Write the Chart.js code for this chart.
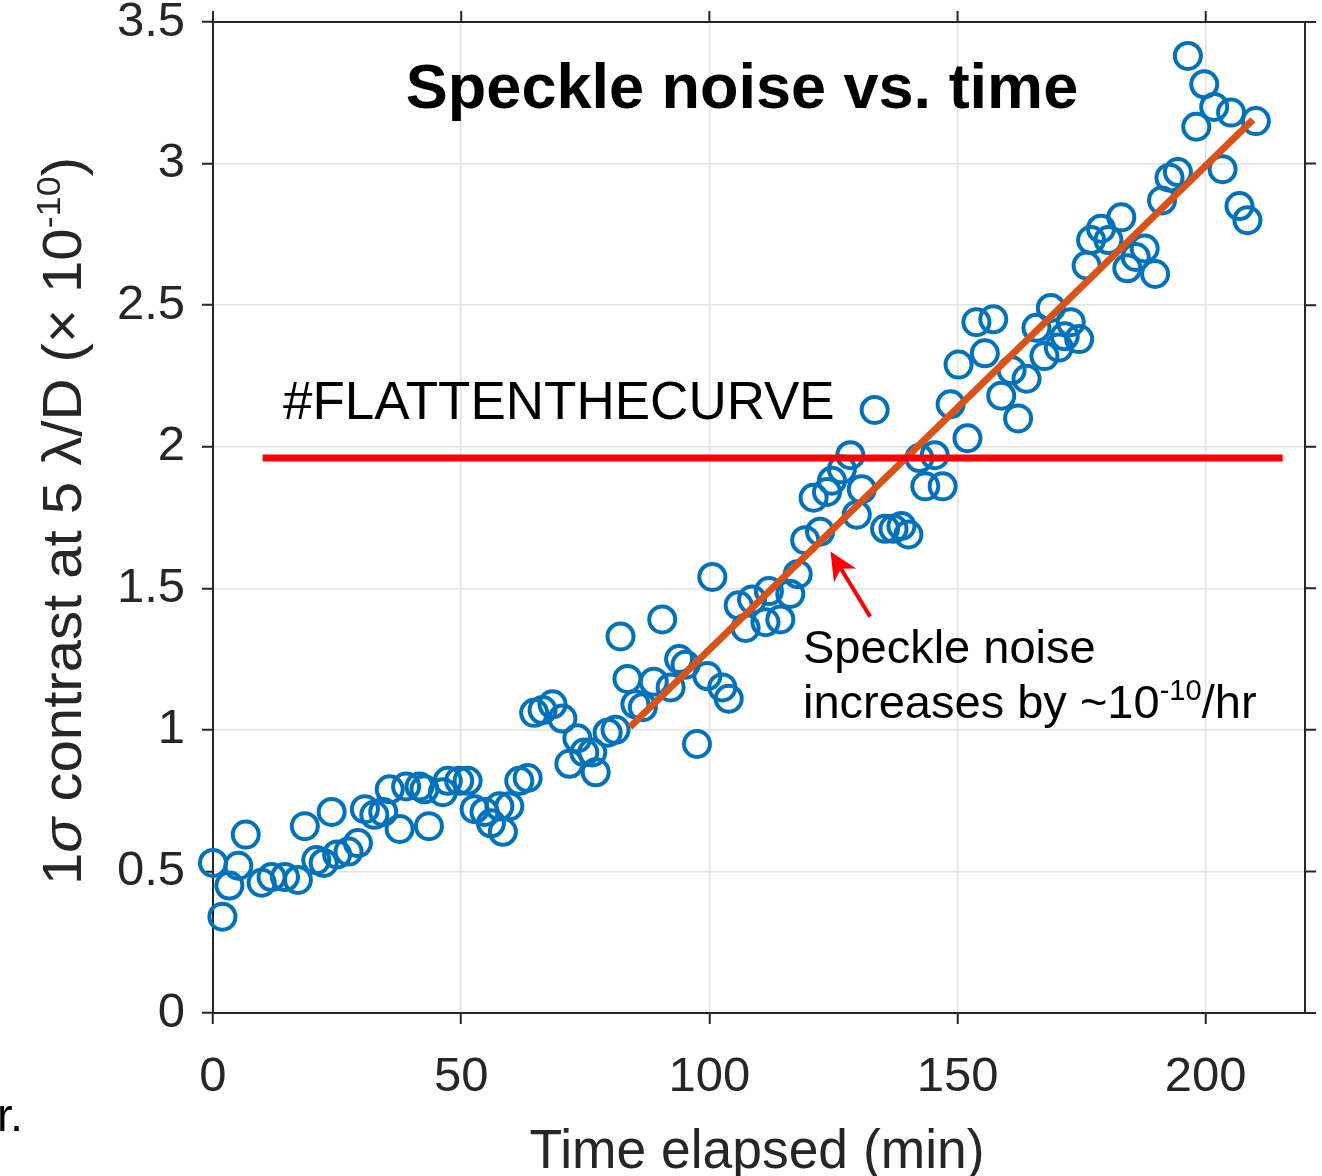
<!DOCTYPE html>
<html>
<head>
<meta charset="utf-8">
<title>Speckle noise vs. time</title>
<script src="https://cdn.jsdelivr.net/npm/chart.js@4.4.0/dist/chart.umd.min.js"></script>
<style>
  html, body { margin: 0; padding: 0; background: #fff; }
  #wrap { width: 1322px; height: 1176px; }
</style>
</head>
<body>
<div id="wrap"><canvas id="speckleChart" width="1322" height="1176"></canvas></div>
<script>
const timeMin = [0.0, 1.9, 3.3, 5.1, 6.6, 9.8, 11.8, 14.5, 17.1, 18.5,
    20.8, 22.3, 23.9, 25.0, 27.3, 29.2, 30.6, 32.5, 34.3, 35.6,
    37.6, 38.9, 41.6, 42.6, 43.5, 46.3, 47.3, 49.6, 51.3, 52.7,
    54.7, 56.0, 57.7, 58.4, 59.7, 61.7, 63.4, 64.7, 66.4, 68.4,
    70.4, 71.8, 73.4, 74.8, 76.4, 77.1, 79.5, 81.1, 82.1, 83.5,
    85.1, 86.6, 88.8, 90.5, 92.2, 93.9, 95.2, 97.5, 99.6, 100.6,
    102.6, 103.9, 105.9, 107.3, 108.6, 111.3, 112.0, 114.3, 116.3, 117.8,
    119.3, 121.0, 122.3, 123.7, 124.7, 126.7, 128.4, 129.7, 130.7, 133.3,
    135.4, 137.1, 138.7, 140.1, 142.3, 143.5, 145.4, 147.0, 148.6, 150.2,
    152.0, 153.8, 155.5, 157.2, 158.8, 160.9, 162.2, 163.9, 165.9, 167.5,
    168.8, 170.4, 171.6, 172.8, 174.5, 176.0, 176.9, 178.9, 180.4, 183.0,
    184.2, 185.9, 187.7, 189.8, 191.2, 192.7, 194.4, 196.4, 198.1, 199.7,
    201.7, 203.4, 205.1, 206.8, 208.4, 210.1];
const contrast = [0.53, 0.34, 0.45, 0.52, 0.63, 0.46, 0.48, 0.48, 0.47, 0.66,
    0.54, 0.53, 0.71, 0.56, 0.57, 0.60, 0.72, 0.70, 0.71, 0.79,
    0.65, 0.80, 0.80, 0.79, 0.66, 0.78, 0.82, 0.82, 0.82, 0.72,
    0.71, 0.67, 0.73, 0.64, 0.73, 0.82, 0.83, 1.06, 1.07, 1.09,
    1.04, 0.88, 0.97, 0.92, 0.92, 0.85, 0.99, 1.00, 1.33, 1.18,
    1.09, 1.08, 1.17, 1.39, 1.15, 1.25, 1.23, 0.95, 1.19, 1.54,
    1.15, 1.11, 1.44, 1.36, 1.46, 1.38, 1.49, 1.39, 1.48, 1.55,
    1.67, 1.82, 1.70, 1.84, 1.88, 1.92, 1.97, 1.76, 1.85, 2.13,
    1.71, 1.71, 1.72, 1.69, 1.96, 1.86, 1.97, 1.86, 2.15, 2.29,
    2.03, 2.44, 2.33, 2.45, 2.18, 2.27, 2.10, 2.24, 2.42, 2.32,
    2.49, 2.35, 2.39, 2.44, 2.38, 2.64, 2.73, 2.77, 2.73, 2.81,
    2.63, 2.67, 2.70, 2.61, 2.87, 2.95, 2.97, 3.38, 3.13, 3.28,
    3.20, 2.98, 3.18, 2.85, 2.80, 3.15];

// linear fit (~1e-10 per hour)
const fitTime = [84, 209.5];
const fitContrast = [1.01, 3.155];

// the "flatten the curve" line
const flatTime = [10, 215.5];
const flatContrast = [1.96, 1.96];

// arrow pointing at the fit: tail, then tip
const arrowTime = [132.4, 124.4];
const arrowContrast = [1.40, 1.63];

const xTicks = [0, 50, 100, 150, 200];
const yTicks = [0, 0.5, 1, 1.5, 2, 2.5, 3, 3.5];

const AXIS_COLOR = '#262626';
const FONT = '"Liberation Sans", Arial, Helvetica, sans-serif';

Chart.defaults.font.family = FONT;

function toPoints(xs, ys) {
    return xs.map((x, i) => ({ x: x, y: ys[i] }));
}

// draws text pieces one after another, with optional superscripts
function drawRuns(ctx, runs, x, y, size) {
    let cx = x;
    runs.forEach(r => {
        const fs = r.sup ? size * 0.62 : size;
        ctx.font = (r.italic ? 'italic ' : '') + fs + 'px ' + FONT;
        ctx.fillText(r.t, cx, r.sup ? y - size * 0.38 : y);
        cx += ctx.measureText(r.t).width;
    });
}

function runsWidth(ctx, runs, size) {
    let w = 0;
    runs.forEach(r => {
        const fs = r.sup ? size * 0.62 : size;
        ctx.font = (r.italic ? 'italic ' : '') + fs + 'px ' + FONT;
        w += ctx.measureText(r.t).width;
    });
    return w;
}

const decorations = {
    id: 'decorations',
    afterDraw(chart) {
        const ctx = chart.ctx;
        const area = chart.chartArea;
        const xs = chart.scales.x;
        const ys = chart.scales.y;
        ctx.save();

        // top and right edges of the box, with outward ticks
        ctx.strokeStyle = AXIS_COLOR;
        ctx.lineWidth = 2;
        ctx.beginPath();
        ctx.moveTo(area.left, area.top);
        ctx.lineTo(area.right, area.top);
        ctx.lineTo(area.right, area.bottom);
        xs.ticks.forEach(t => {
            const px = xs.getPixelForValue(t.value);
            ctx.moveTo(px, area.top);
            ctx.lineTo(px, area.top - 11);
        });
        ys.ticks.forEach(t => {
            const py = ys.getPixelForValue(t.value);
            ctx.moveTo(area.right, py);
            ctx.lineTo(area.right + 11, py);
        });
        ctx.stroke();

        // arrow
        const x0 = xs.getPixelForValue(arrowTime[0]);
        const y0 = ys.getPixelForValue(arrowContrast[0]);
        const x1 = xs.getPixelForValue(arrowTime[1]);
        const y1 = ys.getPixelForValue(arrowContrast[1]);
        const ang = Math.atan2(y1 - y0, x1 - x0);
        const c = Math.cos(ang), s = Math.sin(ang);
        const headLen = 28, headW = 13;
        ctx.strokeStyle = '#ff0000';
        ctx.fillStyle = '#ff0000';
        ctx.lineWidth = 4;
        ctx.beginPath();
        ctx.moveTo(x0, y0);
        ctx.lineTo(x1 - c * headLen * 0.7, y1 - s * headLen * 0.7);
        ctx.stroke();
        const bx = x1 - c * headLen, by = y1 - s * headLen;
        ctx.beginPath();
        ctx.moveTo(x1, y1);
        ctx.lineTo(bx - s * headW, by + c * headW);
        ctx.lineTo(x1 - c * headLen * 0.72, y1 - s * headLen * 0.72);
        ctx.lineTo(bx + s * headW, by - c * headW);
        ctx.closePath();
        ctx.fill();

        // texts inside the plot
        ctx.fillStyle = '#000';
        ctx.textBaseline = 'alphabetic';
        ctx.textAlign = 'center';
        ctx.font = 'bold 63px ' + FONT;
        ctx.fillText('Speckle noise vs. time', 742, 108);

        ctx.textAlign = 'left';
        ctx.font = '53px ' + FONT;
        ctx.fillText('#FLATTENTHECURVE', 283, 419);

        ctx.font = '47px ' + FONT;
        ctx.fillText('Speckle noise', 803, 663);
        drawRuns(ctx, [{ t: 'increases by ~10' }, { t: '-10', sup: true }, { t: '/hr' }], 803, 718, 47);

        // stray letter at the lower left edge
        ctx.font = '47px ' + FONT;
        ctx.fillText('r.', -3, 1131);

        // x axis title
        ctx.fillStyle = AXIS_COLOR;
        ctx.font = '55px ' + FONT;
        const xt = 'Time elapsed (min)';
        const xw = ctx.measureText(xt).width;
        ctx.save();
        ctx.translate(757, 1168);
        ctx.scale(455 / xw, 1);
        ctx.fillText(xt, -xw / 2, 0);
        ctx.restore();

        // y axis title, rotated
        const yRuns = [
            { t: '1' }, { t: 'σ', italic: true }, { t: ' contrast at 5 ' },
            { t: 'λ' }, { t: '/D (' }, { t: '×' }, { t: ' 10' },
            { t: '-10', sup: true }, { t: ')' }
        ];
        const yw = runsWidth(ctx, yRuns, 55);
        ctx.save();
        ctx.translate(81, 521);
        ctx.rotate(-Math.PI / 2);
        ctx.scale(728 / yw, 1);
        drawRuns(ctx, yRuns, -yw / 2, 0, 55);
        ctx.restore();

        ctx.restore();
    }
};

const ctx = document.getElementById('speckleChart').getContext('2d');
const speckleChart = new Chart(ctx, {
    type: 'scatter',
    data: {
        datasets: [
            {
                label: 'flatten',
                data: toPoints(flatTime, flatContrast),
                showLine: true,
                borderColor: '#ff0000',
                borderWidth: 7,
                borderCapStyle: 'butt',
                pointRadius: 0,
                clip: false
            },
            {
                label: 'fit',
                data: toPoints(fitTime, fitContrast),
                showLine: true,
                borderColor: '#D95319',
                borderWidth: 7,
                borderCapStyle: 'butt',
                pointRadius: 0,
                clip: false
            },
            {
                label: 'speckle noise',
                data: toPoints(timeMin, contrast),
                pointStyle: 'circle',
                pointRadius: 13,
                pointHoverRadius: 13,
                pointBorderWidth: 4,
                pointBorderColor: '#0072BD',
                pointBackgroundColor: 'rgba(0,0,0,0)',
                clip: false
            }
        ]
    },
    options: {
        responsive: false,
        animation: false,
        layout: { padding: { left: 0, top: 22, right: 15, bottom: 0 } },
        plugins: {
            legend: { display: false },
            tooltip: { enabled: false }
        },
        scales: {
            x: {
                type: 'linear',
                min: 0,
                max: 220,
                afterBuildTicks: s => { s.ticks = xTicks.map(v => ({ value: v })); },
                afterFit: s => { s.height = 163; s.paddingLeft = 0; s.paddingRight = 0; },
                grid: { color: '#e2e2e2', lineWidth: 1.5, tickColor: AXIS_COLOR, tickLength: 11, tickWidth: 2 },
                border: { color: AXIS_COLOR, width: 2 },
                ticks: {
                    color: AXIS_COLOR, font: { size: 49 }, padding: 24, maxRotation: 0, autoSkip: false,
                    callback: v => String(v)
                }
            },
            y: {
                type: 'linear',
                min: 0,
                max: 3.5,
                afterBuildTicks: s => { s.ticks = yTicks.map(v => ({ value: v })); },
                afterFit: s => { s.width = 213; s.paddingTop = 0; s.paddingBottom = 0; },
                grid: { color: '#e2e2e2', lineWidth: 1.5, tickColor: AXIS_COLOR, tickLength: 11, tickWidth: 2 },
                border: { color: AXIS_COLOR, width: 2 },
                ticks: {
                    color: AXIS_COLOR, font: { size: 49 }, padding: 17, autoSkip: false,
                    callback: v => String(v)
                }
            }
        }
    },
    plugins: [decorations]
});
</script>
</body>
</html>
